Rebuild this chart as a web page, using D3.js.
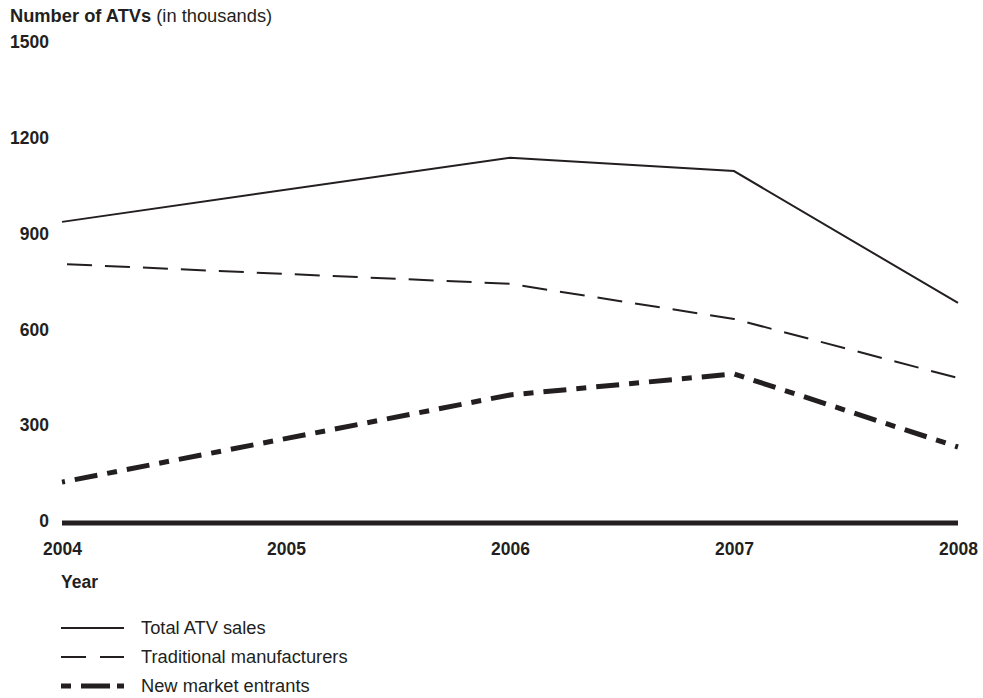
<!DOCTYPE html>
<html>
<head>
<meta charset="utf-8">
<script src="https://cdn.jsdelivr.net/npm/d3@7"></script>
<style>
  html, body { margin: 0; padding: 0; background: #fff; }
  svg { display: block; font-family: "Liberation Sans", Arial, Helvetica, sans-serif; }
</style>
</head>
<body>
<svg id="chart" width="983" height="698"></svg>
<script>
// ATV sales, thousands of units
const years = [2004, 2006, 2007, 2008];
const tickYears = [2004, 2005, 2006, 2007, 2008];
const totalSales = [943, 1144, 1102, 689];
const traditional = [811, 749, 639, 454];
const newEntrants = [128, 401, 467, 238];
const yTicks = [0, 300, 600, 900, 1200, 1500];
const seriesNames = ["Total ATV sales", "Traditional manufacturers", "New market entrants"];

const ink = "#231f20";
const fs = 17.5;      // tick labels
const fsText = 18.3;  // title and legend
const svg = d3.select("#chart");

const x = d3.scaleLinear().domain([2004, 2008]).range([62, 958]);
const y = d3.scaleLinear().domain([0, 1500]).range([523, 44]);

// Title
const title = svg.append("text").attr("x", 10).attr("y", 22)
  .attr("font-size", fsText).attr("fill", ink);
title.append("tspan").attr("font-weight", "bold").text("Number of ATVs");
title.append("tspan").text(" (in thousands)");

// Y axis: labels only
const yAxis = d3.axisLeft(y).tickValues(yTicks).tickSize(0).tickPadding(0).tickFormat(d3.format("d"));
const gy = svg.append("g").attr("transform", "translate(49,-2)").call(yAxis);
gy.select(".domain").remove();
gy.selectAll("text").attr("font-size", fs).attr("font-weight", "bold")
  .attr("fill", ink).attr("font-family", "Liberation Sans, Arial, sans-serif");

// X axis: heavy baseline with year labels beneath
const xAxis = d3.axisBottom(x).tickValues(tickYears).tickSize(0).tickPadding(0).tickFormat(d3.format("d"));
const gx = svg.append("g").attr("transform", "translate(0,543)").call(xAxis);
gx.select(".domain").remove();
gx.selectAll("text").attr("font-size", fs).attr("font-weight", "bold")
  .attr("fill", ink).attr("font-family", "Liberation Sans, Arial, sans-serif");

svg.append("line")
  .attr("x1", x(2004)).attr("x2", x(2008))
  .attr("y1", y(0)).attr("y2", y(0))
  .attr("stroke", ink).attr("stroke-width", 5);

svg.append("text").attr("x", 61).attr("y", 588)
  .attr("font-size", fs).attr("font-weight", "bold").attr("fill", ink).text("Year");

// Series lines
const styles = [
  { width: 2, dash: null, offset: 0 },
  { width: 2, dash: "25,13", offset: -5 },
  { width: 5, dash: "23,10,10,10", offset: 40 }
];
const seriesValues = [totalSales, traditional, newEntrants];

const line = d3.line().x(d => x(d[0])).y(d => y(d[1]));

seriesValues.forEach((vals, i) => {
  const pts = years.map((yr, j) => [yr, vals[j]]);
  svg.append("path")
    .datum(pts)
    .attr("d", line)
    .attr("fill", "none")
    .attr("stroke", ink)
    .attr("stroke-width", styles[i].width)
    .attr("stroke-linejoin", "miter")
    .attr("stroke-dasharray", styles[i].dash)
    .attr("stroke-dashoffset", styles[i].offset);
});

// Legend
const legendStyles = [
  { width: 2, dash: null },
  { width: 2, dash: "25,14" },
  { width: 5, dash: "10,10,29,7,7,20" }
];
const legend = svg.append("g");
seriesNames.forEach((name, i) => {
  const ly = 628 + i * 29;
  legend.append("line")
    .attr("x1", 61).attr("x2", 124).attr("y1", ly).attr("y2", ly)
    .attr("stroke", ink)
    .attr("stroke-width", legendStyles[i].width)
    .attr("stroke-dasharray", legendStyles[i].dash);
  legend.append("text")
    .attr("x", 141).attr("y", ly + 6)
    .attr("font-size", fsText).attr("fill", ink).text(name);
});
</script>
</body>
</html>
